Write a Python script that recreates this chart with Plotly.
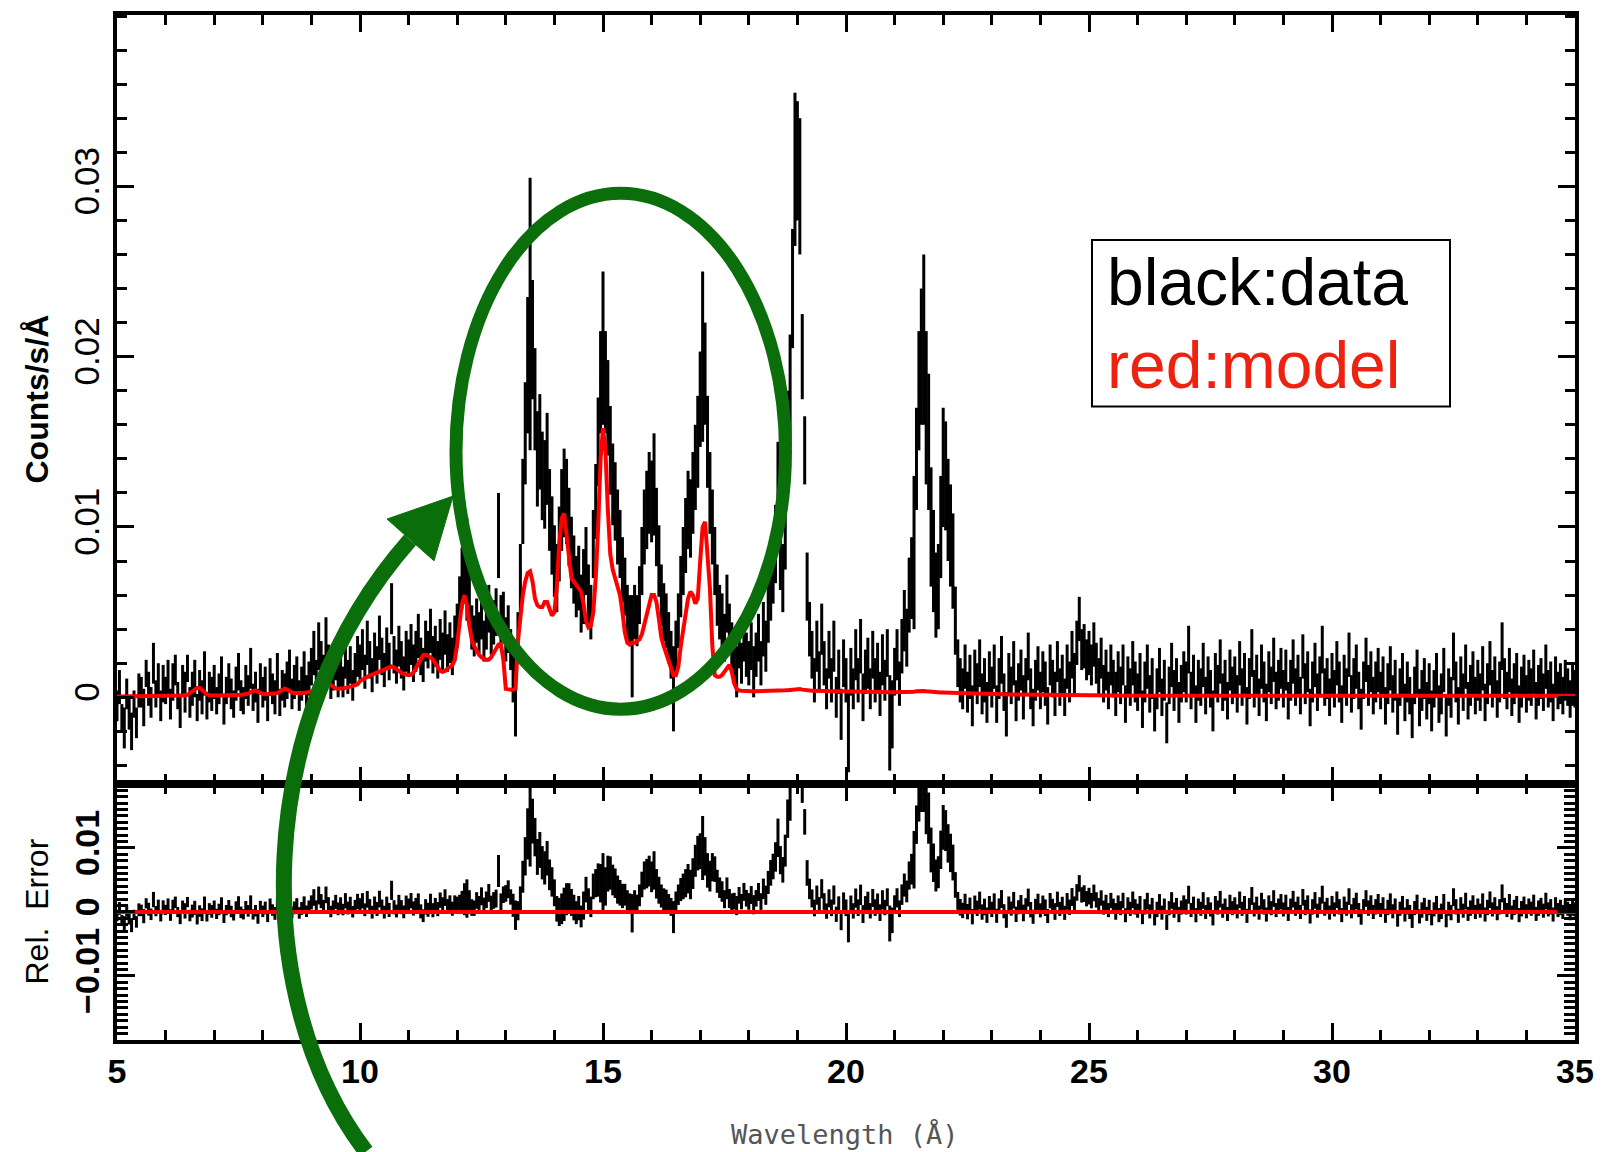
import plotly.graph_objects as go

# ---------------- data (values in units of 1e-3 counts/s/Å) ----------------
WAVE_MIN = 5.0      # first bin centre, Å
WAVE_STEP = 0.05    # bin width, Å

counts_mcts = [
    -0.5, 0.6, -1.2, -1.8, 0.2, -0.9, -2.0, -0.4, -1.5, 0.4, 0.3, -0.6, 1.4, 0.5, -0.3, 2.0, 0.2, 1.0, -0.5, 0.8,
    0.4, 1.2, -0.4, 0.9, 1.6, 0.1, -0.8, 1.0, 0.3, 1.7, -0.3, 0.5, 1.1, -0.6, 0.7, 0.0, 1.4, -0.5, 0.6, 0.2,
    0.9, -0.2, 0.5, 1.3, -0.7, 0.4, 1.0, 0.2, -0.4, 0.8, 1.5, 0.1, -0.2, 0.9, 0.4, 1.7, 0.0, 0.6, -0.5, 1.1,
    0.3, 0.8, -0.6, 1.2, 0.5, 0.0, 1.4, -0.3, 0.7, 0.4, 1.0, 1.6, 0.2, 0.9, 1.3, 0.1, 0.8, 1.5, 0.4, 1.1,
    1.8, 2.6, 1.2, 3.0, 2.2, 1.5, 3.4, 2.0, 0.8, 1.4, 2.1, 1.0, 1.7, 0.9, 2.3, 1.2, 1.9, 0.7, 1.6, 2.4,
    2.0, 2.8, 1.5, 3.2, 2.2, 1.3, 2.6, 1.9, 3.5, 2.4, 1.6, 2.9, 2.1, 5.2, 2.5, 1.8, 3.0, 2.2, 1.4, 2.7,
    2.3, 3.1, 2.0, 2.7, 3.6, 2.4, 1.9, 3.3, 2.8, 3.9, 2.5, 3.0, 2.2, 3.4, 2.7, 3.8, 2.6, 3.2, 2.4, 3.5,
    4.2, 5.6, 7.0, 8.0, 7.5, 6.0, 4.1, 3.6, 4.5, 3.8, 4.8, 3.3, 4.1, 5.2, 3.7, 4.4, 5.0, 9.5, 4.6, 4.9,
    3.4, 4.0, 2.8, 1.5, 0.0, 3.5, 7.0, 11.5, 15.5, 19.5, 22.5, 21.0, 17.5, 14.0, 15.0, 13.0, 12.5, 14.0, 11.0, 9.5,
    8.0, 7.0, 9.0, 11.0, 12.0, 11.5, 10.0, 8.5, 7.5, 6.5, 7.0, 5.5, 6.5, 8.0, 6.0, 5.0, 9.0, 11.5, 15.0, 18.5,
    20.5, 18.5, 17.0, 14.5, 12.5, 11.5, 10.0, 9.0, 7.5, 6.5, 5.0, 4.5, 3.0, 5.0, 4.5, 6.0, 8.0, 10.0, 11.0, 12.0,
    11.5, 12.5, 10.0, 8.0, 6.0, 5.0, 4.5, 3.5, 2.5, 0.5, 3.0, 4.5, 6.5, 8.0, 9.5, 11.0, 10.5, 12.0, 13.5, 15.0,
    17.5, 20.0, 19.0, 15.0, 12.0, 10.0, 8.0, 6.0, 5.0, 4.5, 3.5, 5.5, 4.0, 3.0, 2.5, 1.5, 3.0, 2.0, 3.5, 2.5,
    2.0, 3.0, 1.5, 2.5, 3.5, 2.0, 4.0, 3.0, 5.0, 6.5, 7.5, 9.0, 12.0, 8.5, 7.0, 10.0, 15.0, 18.0, 24.0, 31.0,
    31.5, 30.0, 20.0, 14.5, 6.5, 4.0, 2.5, 1.0, 3.0, 1.5, 4.0, 2.0, 0.5, 2.5, 1.0, 3.0, 0.0, 1.5, -1.0, 2.0,
    1.0, -2.0, 1.5, 0.5, 2.5, 1.0, 3.0, 0.0, 1.5, 2.0, 0.5, 2.5, 1.0, 1.8, 0.2, 2.2, 1.0, 2.6, -1.5, -1.0,
    1.5, 2.5, 0.8, 3.0, 4.5, 3.5, 6.0, 7.0, 8.5, 14.0, 18.0, 20.0, 21.0, 17.0, 15.0, 10.0, 8.0, 6.0, 6.5, 10.0,
    13.5, 13.0, 11.0, 9.5, 8.0, 4.5, 2.0, 1.0, 0.5, 1.8, 0.3, 1.2, -0.5, 1.5, 0.8, 2.0, 0.2, 1.0, -0.3, 1.4,
    0.6, 1.8, -0.4, 1.1, 2.2, 0.3, -1.0, 1.4, 0.7, 2.0, -0.2, 0.9, 1.6, 0.0, 1.2, 2.4, 0.5, -0.6, 1.0, 1.7,
    0.4, 1.5, 0.8, -0.5, 1.9, 1.1, 0.2, 2.1, 0.6, 1.3, 0.0, 1.8, 0.9, 2.5, 1.4, 3.2, 4.6, 2.8, 3.0, 2.2,
    2.6, 1.9, 3.1, 2.0, 1.2, 2.3, 0.8, 1.6, 0.4, 1.9, 1.1, 0.2, 1.5, 0.7, 1.9, -0.4, 1.2, 0.6, 2.0, 0.9,
    0.3, 1.4, -0.7, 0.9, 1.8, 0.2, 1.1, -0.9, 0.5, 1.6, 0.0, 1.0, -1.5, 0.7, 1.9, 0.4, 1.2, -0.3, 0.8, 1.5,
    0.9, 2.8, 0.4, 1.3, -0.4, 1.0, 0.6, 1.9, 0.1, 1.2, 0.5, -0.8, 1.4, 0.8, 2.1, 0.3, 1.0, -0.2, 1.6, 0.7,
    1.2, 0.2, 2.0, 0.6, 1.4, -0.5, 1.1, 2.6, 0.5, 1.3, 0.0, 1.8, 0.9, -0.3, 1.5, 0.7, 2.2, 0.4, 1.0, 1.7,
    0.5, 1.6, -0.2, 1.0, 2.1, 0.6, 1.3, 0.1, 2.4, 0.8, 1.5, -0.6, 0.9, 1.9, 0.3, 1.2, 2.8, 0.6, 1.1, 0.0,
    1.4, 0.5, 2.0, 0.9, -0.4, 1.3, 0.6, 2.5, 0.2, 1.1, 1.8, 0.4, -0.7, 1.0, 2.2, 0.7, 1.5, 0.1, 0.9, 1.6,
    0.4, 1.2, -0.5, 0.8, 1.7, 0.2, 1.0, -1.0, 0.6, 1.4, -0.3, 0.9, 0.1, -1.2, 0.7, 1.5, -0.6, 0.4, 1.1, -0.2,
    0.8, -0.8, 0.5, 1.3, -0.4, 0.2, 1.6, -1.1, 0.6, 0.0, 2.4, 0.9, -0.5, 1.2, 0.3, 1.8, -0.2, 0.7, 1.4, 0.1,
    1.0, 0.3, 1.7, -0.3, 0.8, 2.0, 0.5, 1.2, -0.1, 0.9, 3.0, 1.1, 0.4, 1.6, 0.0, 0.8, 1.4, -0.4, 0.6, 1.3,
    0.2, 1.0, 0.6, 1.5, -0.2, 0.7, 1.1, 0.3, 1.8, 0.5, 0.9, -0.3, 1.2, 0.4, 0.8, 0.1, 1.0, 0.6, -0.1, 0.7,
    0.5,
]

counts_err_mcts = [
    0.9, 1.0, 0.8, 1.2, 0.9, 1.0, 1.1, 0.8, 0.9, 1.0, 0.9, 1.1, 0.8, 1.0, 0.9, 1.2, 0.8, 1.0, 0.9, 1.1,
    0.8, 1.0, 0.9, 1.1, 0.9, 0.8, 1.0, 0.9, 1.2, 0.8, 0.9, 1.0, 1.1, 0.8, 0.9, 1.0, 1.3, 0.8, 0.9, 1.0,
    1.0, 0.8, 0.9, 1.1, 0.9, 0.8, 1.0, 0.9, 0.8, 1.0, 1.1, 0.9, 0.8, 1.0, 0.9, 1.2, 0.8, 0.9, 1.0, 0.9,
    0.9, 1.0, 0.8, 1.1, 0.9, 1.0, 1.2, 0.8, 0.9, 1.0, 1.1, 1.2, 0.9, 1.0, 1.1, 0.9, 1.0, 1.2, 0.9, 1.0,
    1.1, 1.3, 1.0, 1.4, 1.1, 1.0, 1.3, 1.1, 0.9, 1.0, 1.1, 1.0, 1.1, 0.9, 1.2, 1.0, 1.1, 0.9, 1.0, 1.2,
    1.1, 1.2, 1.0, 1.3, 1.1, 1.0, 1.2, 1.1, 1.3, 1.1, 1.0, 1.2, 1.1, 1.5, 1.1, 1.0, 1.2, 1.1, 1.0, 1.2,
    1.1, 1.2, 1.1, 1.2, 1.3, 1.1, 1.0, 1.2, 1.1, 1.3, 1.1, 1.2, 1.1, 1.2, 1.1, 1.3, 1.1, 1.2, 1.1, 1.3,
    1.3, 1.5, 1.8, 2.5, 3.0, 1.6, 1.3, 1.2, 1.3, 1.2, 1.4, 1.2, 1.3, 1.4, 1.2, 1.3, 1.4, 2.5, 1.4, 1.3,
    1.3, 1.4, 1.2, 1.8, 2.3, 1.5, 2.0, 2.5, 3.0, 4.0, 8.0, 3.5, 3.0, 2.8, 2.8, 2.6, 2.6, 2.7, 2.4, 2.3,
    2.1, 2.0, 2.2, 2.4, 2.6, 2.5, 2.3, 2.1, 2.0, 1.8, 1.9, 1.7, 2.2, 2.0, 1.8, 1.6, 2.0, 2.2, 2.6, 3.0,
    4.5, 3.0, 2.8, 2.6, 2.4, 2.3, 2.2, 2.0, 1.9, 1.7, 1.6, 1.5, 3.0, 1.6, 1.5, 1.7, 2.0, 2.2, 2.3, 2.4,
    2.4, 3.0, 2.3, 2.1, 1.8, 1.7, 1.6, 1.5, 1.4, 2.5, 1.5, 1.6, 1.8, 2.0, 2.2, 2.3, 2.3, 2.4, 2.5, 2.7,
    2.8, 5.0, 3.0, 2.7, 2.4, 2.2, 2.0, 1.8, 1.6, 1.6, 1.4, 1.7, 1.5, 1.4, 1.3, 1.5, 1.3, 1.2, 1.4, 1.3,
    1.3, 1.4, 1.5, 1.3, 1.4, 1.3, 1.6, 1.5, 1.8, 2.0, 2.0, 2.3, 3.0, 2.2, 2.0, 2.5, 3.0, 3.3, 3.5, 4.5,
    3.5, 4.0, 2.5, 2.0, 2.0, 1.6, 1.4, 1.3, 1.5, 1.2, 1.5, 1.3, 1.2, 1.4, 1.3, 1.5, 1.2, 1.3, 1.5, 1.4,
    1.3, 2.4, 1.4, 1.2, 1.5, 1.3, 1.6, 1.4, 1.3, 1.5, 1.2, 1.4, 1.3, 1.4, 1.3, 1.5, 1.2, 1.4, 2.8, 2.0,
    1.4, 1.5, 1.3, 1.6, 1.8, 1.7, 2.2, 2.4, 4.5, 3.0, 3.5, 4.0, 5.0, 4.5, 4.0, 3.5, 3.0, 2.5, 2.5, 3.0,
    3.5, 3.2, 3.0, 3.0, 2.8, 2.0, 1.4, 1.3, 1.2, 1.3, 1.2, 1.3, 1.2, 1.3, 1.2, 1.4, 1.2, 1.3, 1.2, 1.3,
    1.2, 1.3, 1.1, 1.2, 1.4, 1.1, 1.3, 1.2, 1.1, 1.3, 1.2, 1.1, 1.2, 1.3, 1.1, 1.4, 1.2, 1.1, 1.2, 1.3,
    1.1, 1.2, 1.3, 1.1, 1.2, 1.1, 1.3, 1.2, 1.1, 1.2, 1.1, 1.3, 1.2, 1.4, 1.2, 1.3, 1.3, 1.2, 1.3, 1.2,
    1.3, 1.2, 1.3, 1.2, 1.1, 1.2, 1.1, 1.2, 1.1, 1.2, 1.1, 1.3, 1.2, 1.1, 1.2, 1.1, 1.2, 1.1, 1.3, 1.2,
    1.1, 1.2, 1.1, 1.2, 1.3, 1.1, 1.2, 1.1, 1.2, 1.3, 1.1, 1.2, 1.2, 1.1, 1.3, 1.2, 1.1, 1.2, 1.1, 1.2,
    1.2, 1.4, 1.1, 1.2, 1.1, 1.2, 1.1, 1.3, 1.1, 1.2, 1.1, 1.2, 1.2, 1.1, 1.3, 1.1, 1.2, 1.1, 1.2, 1.1,
    1.2, 1.1, 1.3, 1.1, 1.2, 1.1, 1.2, 1.4, 1.1, 1.2, 1.1, 1.3, 1.2, 1.1, 1.2, 1.1, 1.3, 1.1, 1.2, 1.2,
    1.1, 1.2, 1.1, 1.2, 1.3, 1.1, 1.2, 1.1, 1.3, 1.2, 1.2, 1.1, 1.2, 1.3, 1.1, 1.2, 1.4, 1.1, 1.2, 1.1,
    1.2, 1.1, 1.3, 1.2, 1.1, 1.2, 1.1, 1.3, 1.1, 1.2, 1.3, 1.1, 1.2, 1.1, 1.3, 1.2, 1.2, 1.1, 1.2, 1.3,
    1.1, 1.2, 1.1, 1.2, 1.3, 1.1, 1.2, 1.2, 1.1, 1.2, 1.1, 1.2, 1.1, 1.2, 1.1, 1.3, 1.1, 1.2, 1.2, 1.1,
    1.2, 1.2, 1.1, 1.3, 1.1, 1.2, 1.3, 1.2, 1.1, 1.2, 1.4, 1.2, 1.1, 1.2, 1.1, 1.3, 1.1, 1.2, 1.3, 1.1,
    1.2, 1.1, 1.3, 1.1, 1.2, 1.3, 1.1, 1.2, 1.1, 1.2, 1.4, 1.2, 1.1, 1.3, 1.1, 1.2, 1.2, 1.1, 1.2, 1.2,
    1.1, 1.2, 1.1, 1.3, 1.1, 1.2, 1.2, 1.1, 1.3, 1.1, 1.2, 1.1, 1.2, 1.1, 1.2, 1.1, 1.2, 1.1, 1.1, 1.2,
    1.1,
]

model_mcts = [
    0.05, 0.05, 0.05, 0.05, 0.05, 0.05, 0.05, 0.05, 0.05, 0.05, 0.05, 0.05, 0.05, 0.06, 0.06, 0.06, 0.06, 0.07, 0.07, 0.07,
    0.08, 0.08, 0.08, 0.09, 0.09, 0.10, 0.10, 0.11, 0.12, 0.15, 0.25, 0.35, 0.45, 0.55, 0.55, 0.42, 0.28, 0.18, 0.12, 0.10,
    0.10, 0.10, 0.10, 0.10, 0.11, 0.11, 0.12, 0.12, 0.13, 0.13, 0.14, 0.15, 0.16, 0.18, 0.22, 0.30, 0.38, 0.40, 0.33, 0.25,
    0.20, 0.18, 0.18, 0.19, 0.20, 0.22, 0.26, 0.35, 0.45, 0.50, 0.45, 0.35, 0.28, 0.25, 0.24, 0.24, 0.25, 0.26, 0.28, 0.30,
    0.30, 0.33, 0.38, 0.42, 0.50, 0.60, 0.72, 0.78, 0.72, 0.60, 0.52, 0.50, 0.50, 0.52, 0.55, 0.58, 0.62, 0.66, 0.70, 0.76,
    0.95, 1.05, 1.15, 1.22, 1.28, 1.33, 1.38, 1.43, 1.48, 1.55, 1.62, 1.70, 1.78, 1.82, 1.76, 1.65, 1.52, 1.44, 1.38, 1.33,
    1.30, 1.33, 1.45, 1.70, 2.00, 2.30, 2.48, 2.50, 2.45, 2.35, 2.22, 2.00, 1.75, 1.55, 1.50, 1.55, 1.68, 1.80, 1.88, 2.20,
    3.10, 4.40, 5.50, 6.00, 5.40, 4.20, 3.40, 3.00, 2.70, 2.50, 2.35, 2.25, 2.20, 2.22, 2.35, 2.60, 2.90, 3.10, 3.10, 2.20,
    0.50, 0.45, 0.45, 0.45, 0.50, 3.30, 5.00, 6.00, 6.80, 7.30, 7.40, 6.80, 5.80, 5.40, 5.30, 5.30, 5.60, 5.60, 5.20, 4.80,
    5.00, 6.50, 9.00, 10.50, 10.80, 9.50, 7.80, 7.00, 6.80, 6.60, 6.40, 6.20, 5.50, 4.50, 4.10, 4.20, 5.00, 7.00, 10.00, 14.00,
    15.80, 14.50, 11.00, 8.40, 7.50, 7.00, 6.50, 6.00, 5.00, 3.80, 3.20, 3.10, 3.20, 3.20, 3.30, 3.40, 3.70, 4.30, 5.00, 5.60,
    6.00, 6.00, 5.60, 4.60, 3.50, 3.00, 2.60, 2.20, 1.70, 1.30, 1.30, 1.80, 3.00, 4.00, 5.00, 5.80, 6.20, 6.00, 5.50, 5.80,
    8.00, 10.00, 10.30, 8.50, 6.40, 3.00, 1.30, 1.20, 1.20, 1.30, 1.50, 1.80, 1.90, 1.50, 0.80, 0.50, 0.40, 0.38, 0.36, 0.35,
    0.35, 0.35, 0.36, 0.36, 0.37, 0.37, 0.38, 0.38, 0.38, 0.39, 0.39, 0.40, 0.40, 0.40, 0.41, 0.41, 0.42, 0.44, 0.46, 0.48,
    0.50, 0.48, 0.45, 0.42, 0.40, 0.39, 0.38, 0.38, 0.37, 0.37, 0.37, 0.36, 0.36, 0.36, 0.35, 0.35, 0.35, 0.35, 0.34, 0.34,
    0.34, 0.34, 0.33, 0.33, 0.33, 0.33, 0.32, 0.32, 0.32, 0.32, 0.31, 0.31, 0.31, 0.31, 0.30, 0.30, 0.30, 0.30, 0.30, 0.30,
    0.29, 0.29, 0.29, 0.29, 0.29, 0.29, 0.30, 0.31, 0.33, 0.35, 0.37, 0.38, 0.37, 0.35, 0.33, 0.31, 0.30, 0.29, 0.28, 0.28,
    0.28, 0.28, 0.28, 0.27, 0.27, 0.27, 0.26, 0.26, 0.25, 0.25, 0.24, 0.24, 0.23, 0.23, 0.22, 0.22, 0.21, 0.21, 0.20, 0.20,
    0.20, 0.19, 0.19, 0.18, 0.18, 0.18, 0.17, 0.17, 0.17, 0.16, 0.16, 0.16, 0.15, 0.15, 0.15, 0.15, 0.14, 0.14, 0.14, 0.14,
    0.14, 0.13, 0.13, 0.13, 0.13, 0.13, 0.12, 0.12, 0.12, 0.12, 0.13, 0.14, 0.15, 0.16, 0.16, 0.15, 0.14, 0.13, 0.12, 0.12,
    0.12, 0.12, 0.12, 0.11, 0.11, 0.11, 0.11, 0.11, 0.11, 0.11, 0.11, 0.11, 0.11, 0.10, 0.10, 0.10, 0.10, 0.10, 0.10, 0.10,
    0.10, 0.10, 0.10, 0.10, 0.10, 0.10, 0.10, 0.10, 0.10, 0.10, 0.10, 0.10, 0.10, 0.10, 0.10, 0.10, 0.10, 0.10, 0.10, 0.10,
    0.10, 0.10, 0.10, 0.10, 0.10, 0.10, 0.10, 0.10, 0.10, 0.10, 0.10, 0.10, 0.10, 0.10, 0.10, 0.10, 0.10, 0.10, 0.10, 0.10,
    0.10, 0.10, 0.10, 0.10, 0.10, 0.10, 0.10, 0.10, 0.10, 0.10, 0.10, 0.10, 0.10, 0.10, 0.10, 0.10, 0.10, 0.10, 0.10, 0.10,
    0.10, 0.10, 0.10, 0.10, 0.10, 0.10, 0.10, 0.10, 0.10, 0.10, 0.10, 0.10, 0.10, 0.09, 0.09, 0.09, 0.09, 0.09, 0.09, 0.09,
    0.09, 0.09, 0.09, 0.09, 0.09, 0.09, 0.09, 0.09, 0.09, 0.09, 0.09, 0.09, 0.09, 0.09, 0.09, 0.09, 0.09, 0.09, 0.09, 0.09,
    0.09, 0.09, 0.09, 0.09, 0.09, 0.09, 0.09, 0.09, 0.09, 0.09, 0.09, 0.09, 0.09, 0.09, 0.09, 0.09, 0.09, 0.09, 0.09, 0.09,
    0.09, 0.09, 0.09, 0.09, 0.09, 0.09, 0.09, 0.09, 0.09, 0.09, 0.09, 0.09, 0.09, 0.09, 0.09, 0.09, 0.09, 0.09, 0.09, 0.09,
    0.09, 0.09, 0.09, 0.09, 0.09, 0.09, 0.09, 0.09, 0.09, 0.09, 0.09, 0.09, 0.09, 0.09, 0.09, 0.09, 0.09, 0.09, 0.09, 0.09,
    0.09, 0.09, 0.09, 0.09, 0.09, 0.09, 0.09, 0.09, 0.09, 0.09, 0.09, 0.09, 0.09, 0.09, 0.09, 0.09, 0.09, 0.09, 0.09, 0.09,
    0.09,
]

x_tick_vals = [5, 10, 15, 20, 25, 30, 35]
y_tick_vals = [0, 0.01, 0.02, 0.03]
y_tick_text = ["0", "0.01", "0.02", "0.03"]
r_tick_vals = [-0.01, 0, 0.01]
r_tick_text = ["\u22120.01", "0", "0.01"]

# ---------------- derived series ----------------
SCALE = 1e-3
n = len(counts_mcts)
wave = [round(WAVE_MIN + WAVE_STEP * i, 2) for i in range(n)]
data = [v * SCALE for v in counts_mcts]
err = [v * SCALE for v in counts_err_mcts]
model = [v * SCALE for v in model_mcts]
resid = [d - m for d, m in zip(data, model)]
resid_model = [m - m for m in model]

# ---------------- figure ----------------
W, H = 1613, 1152
ML, MR, MT, MB = 117, 38, 11, 112
PW, PH = W - ML - MR, H - MT - MB
SPLIT_PX = 783


def px(xp):
    return (xp - ML) / PW


def py(yp):
    return (H - MB - yp) / PH


split = py(SPLIT_PX)

fig = go.Figure()

fig.add_trace(go.Scatter(
    x=wave, y=data, mode="markers", xaxis="x", yaxis="y",
    marker=dict(size=2, color="black"),
    error_y=dict(type="data", array=err, visible=True, thickness=3, width=0, color="black"),
    showlegend=False, hoverinfo="skip"))
fig.add_trace(go.Scatter(
    x=wave, y=model, mode="lines", xaxis="x", yaxis="y",
    line=dict(color="#ff0000", width=4), showlegend=False, hoverinfo="skip"))

fig.add_trace(go.Scatter(
    x=wave, y=resid, mode="markers", xaxis="x2", yaxis="y2",
    marker=dict(size=2, color="black"),
    error_y=dict(type="data", array=err, visible=True, thickness=3, width=0, color="black"),
    showlegend=False, hoverinfo="skip"))
fig.add_trace(go.Scatter(
    x=wave, y=resid_model, mode="lines", xaxis="x2", yaxis="y2",
    line=dict(color="#ff0000", width=4), showlegend=False, hoverinfo="skip"))

axis_common = dict(
    showline=True, linewidth=4, linecolor="black", mirror="allticks",
    ticks="inside", tickwidth=3, tickcolor="black",
    showgrid=False, zeroline=False,
)

x_common = dict(axis_common, range=[5, 35], tickmode="array", tickvals=x_tick_vals, ticklen=17,
                minor=dict(ticks="inside", ticklen=10, tickwidth=3, tickcolor="black",
                           tickmode="linear", tick0=5, dtick=1, showgrid=False))

fig.update_layout(
    width=W, height=H,
    margin=dict(l=ML, r=MR, t=MT, b=MB, pad=0),
    paper_bgcolor="white", plot_bgcolor="white",
    font=dict(family="Liberation Sans", color="black"),
    xaxis=dict(x_common, anchor="y", domain=[0, 1], showticklabels=False),
    xaxis2=dict(x_common, anchor="y2", domain=[0, 1], matches="x", showticklabels=True,
                tickfont=dict(family="Liberation Sans", size=34, weight="bold", color="black"),
                ticklabelstandoff=-2),
    yaxis=dict(axis_common, anchor="x", domain=[split, 1], range=[-0.00509, 0.04006],
               tickmode="array", tickvals=y_tick_vals, ticktext=y_tick_text, ticklen=17,
               tickangle=-90, tickfont=dict(family="Liberation Sans", size=35, color="black"),
               ticklabelstandoff=0,
               minor=dict(ticks="inside", ticklen=10, tickwidth=3, tickcolor="black",
                          tickmode="linear", tick0=0, dtick=0.002, showgrid=False)),
    yaxis2=dict(axis_common, anchor="x2", domain=[0, split], range=[-0.02, 0.02],
                tickmode="array", tickvals=r_tick_vals, ticktext=r_tick_text, ticklen=18,
                tickangle=-90, tickfont=dict(family="Liberation Sans", size=34, weight="bold", color="black"),
                ticklabelstandoff=0,
                minor=dict(ticks="inside", ticklen=11, tickwidth=3, tickcolor="black",
                           tickmode="linear", tick0=0, dtick=0.001, showgrid=False)),
)

GREEN = "#0a6e0a"

# green ellipse around the 12-18 Å line complex
fig.add_shape(type="circle", xref="x", yref="y", x0=11.975, x1=18.755, y0=-0.0007, y1=0.02959,
              line=dict(color=GREEN, width=13), layer="above")

# curved green arrow (paper coordinates)
p0 = (px(366), py(1152))
p1 = (px(250), py(1000))
p2 = (px(250), py(720))
p3 = (px(410), py(538))
fig.add_shape(type="path", xref="paper", yref="paper",
              path=f"M {p0[0]},{p0[1]} C {p1[0]},{p1[1]} {p2[0]},{p2[1]} {p3[0]},{p3[1]}",
              line=dict(color=GREEN, width=16), layer="above")
tip = (px(453), py(494))
c1 = (px(387), py(517))
c2 = (px(434), py(559))
fig.add_shape(type="path", xref="paper", yref="paper",
              path=f"M {tip[0]},{tip[1]} L {c1[0]},{c1[1]} L {c2[0]},{c2[1]} Z",
              line=dict(color=GREEN, width=1), fillcolor=GREEN, layer="above")

# legend box
fig.add_shape(type="rect", xref="paper", yref="paper",
              x0=px(1092), x1=px(1450), y0=py(404), y1=py(237),
              line=dict(color="black", width=2), fillcolor="white", layer="above")
fig.add_annotation(xref="paper", yref="paper", x=px(1105), y=py(279), xanchor="left", yanchor="middle",
                   text="black:data", showarrow=False,
                   font=dict(family="Liberation Sans", size=66, color="black"))
fig.add_annotation(xref="paper", yref="paper", x=px(1105), y=py(362), xanchor="left", yanchor="middle",
                   text="red:model", showarrow=False,
                   font=dict(family="Liberation Sans", size=66, color="#ee2211"))

# axis titles
fig.add_annotation(xref="paper", yref="paper", x=px(37), y=py(397), xanchor="center", yanchor="middle",
                   text="Counts/s/Å", textangle=-90, showarrow=False,
                   font=dict(family="Liberation Sans", size=32, weight="bold", color="black"))
fig.add_annotation(xref="paper", yref="paper", x=px(37), y=py(911), xanchor="center", yanchor="middle",
                   text="Rel.  Error", textangle=-90, showarrow=False,
                   font=dict(family="Liberation Sans", size=32, color="black"))
fig.add_annotation(xref="paper", yref="paper", x=px(845), y=py(1135), xanchor="center", yanchor="middle",
                   text="Wavelength (Å)", showarrow=False,
                   font=dict(family="DejaVu Sans Mono", size=27, color="#555555"))

fig.write_html("out.html")
